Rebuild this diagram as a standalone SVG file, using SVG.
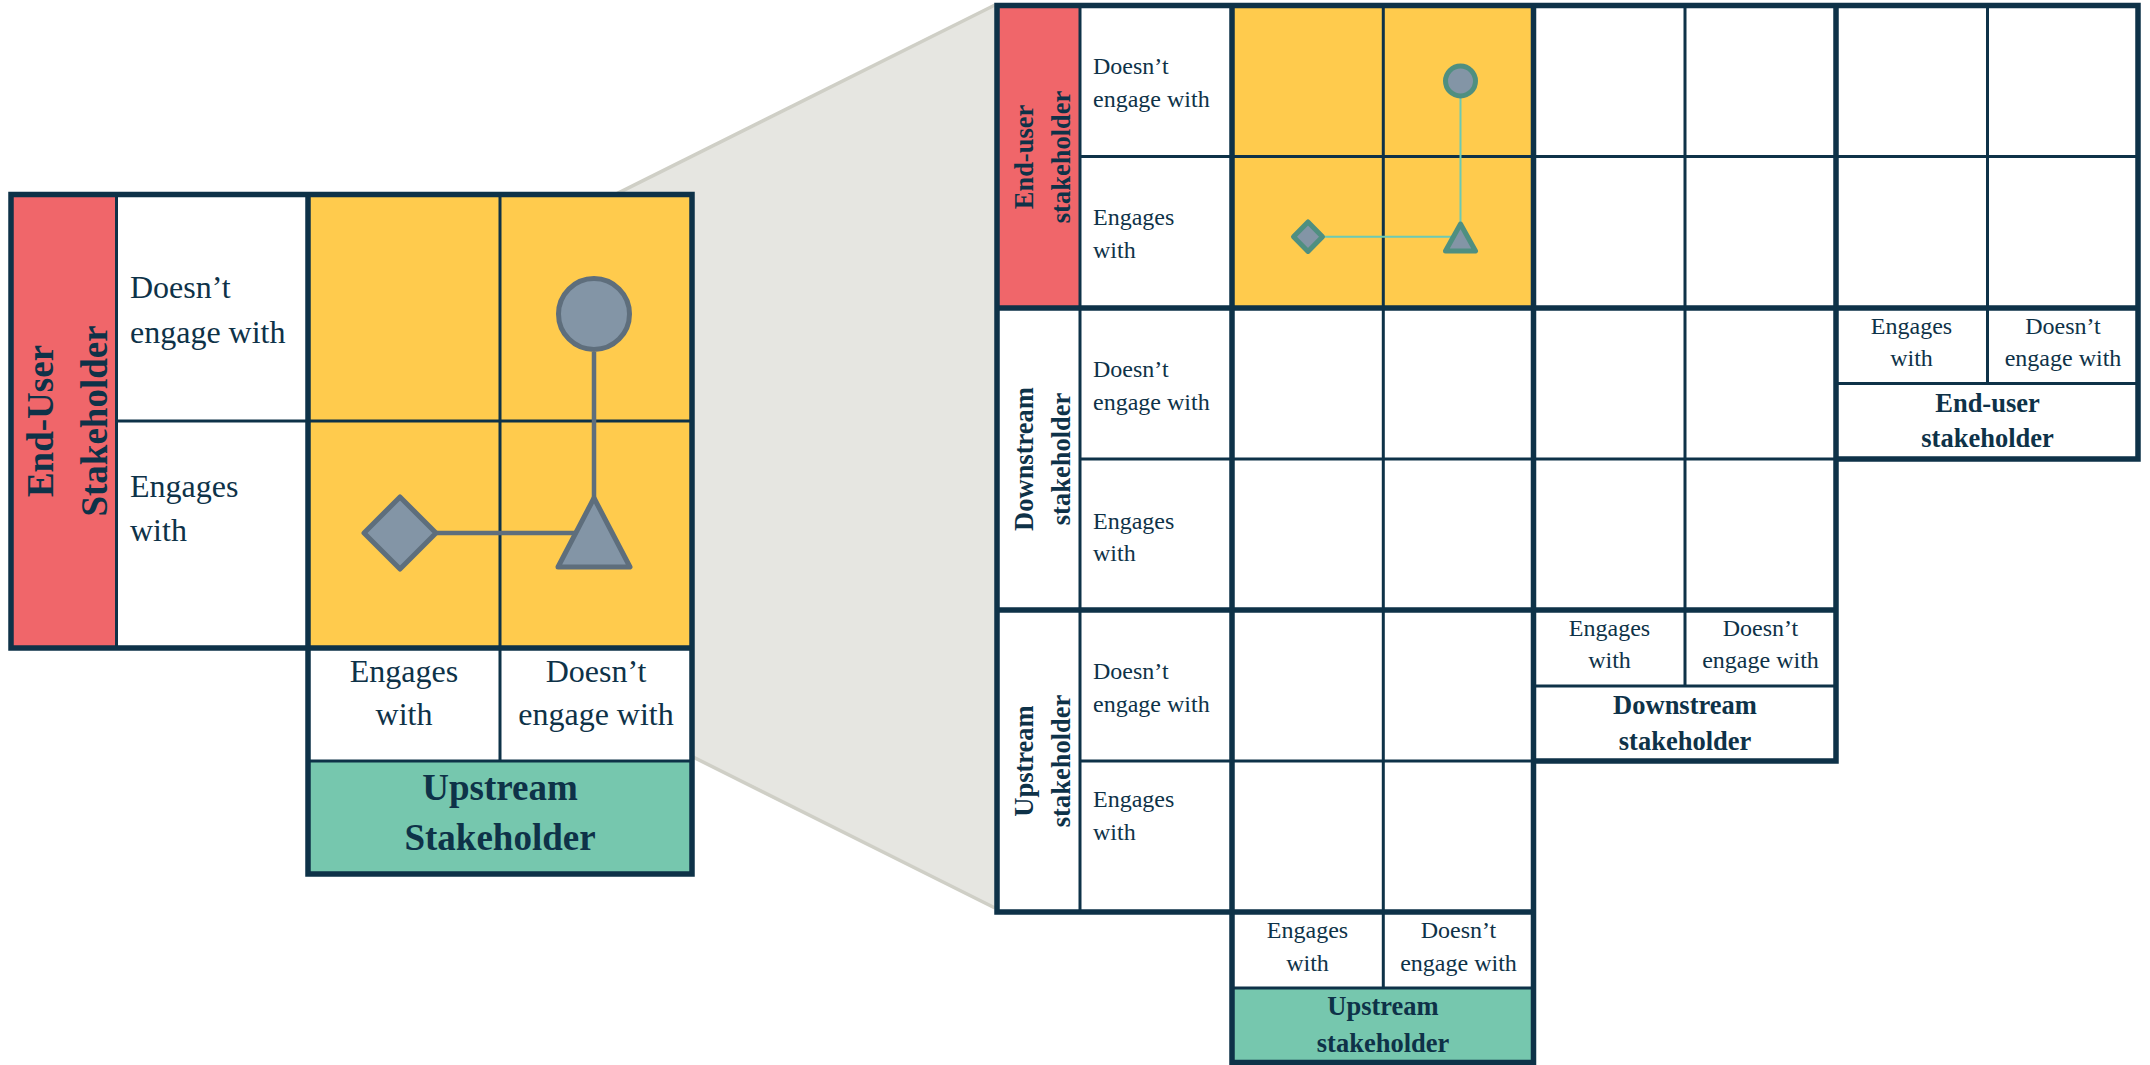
<svg xmlns="http://www.w3.org/2000/svg" width="2150" height="1065" viewBox="0 0 2150 1065" font-family="'Liberation Serif', 'Times New Roman', Tinos, 'DejaVu Serif', serif">
<style>
.thick{stroke:#0e3248;stroke-width:5.5;fill:none;stroke-linecap:square;stroke-linejoin:miter}
.thin{stroke:#0e3248;stroke-width:3;fill:none}
text{font-family:'Liberation Serif', 'Times New Roman', Tinos, 'DejaVu Serif', serif;fill:#0e3248}
.b32{font-size:32px}
.s24{font-size:24px}
.bd37{font-size:37px;font-weight:bold}
.bd26{font-size:26.5px;font-weight:bold}
.mid{text-anchor:middle}
.shapeL{fill:#8395a6;stroke:#5e6e7c;stroke-width:5;stroke-linejoin:round}
.shapeR{fill:#8395a6;stroke:#4f8f80;stroke-width:5;stroke-linejoin:round}
.red{fill:#f0666a}
.yel{fill:#ffcb4d}
.grn{fill:#76c7ae}
.wht{fill:#ffffff}
</style>
<rect width="2150" height="1065" fill="#ffffff"/>
<g id="zoom-cone">
<polygon points="91,456 995,5 995,908" fill="#e6e6e1"/>
<line x1="91" y1="456" x2="995" y2="5" stroke="#cfcfc6" stroke-width="3.5"/>
<line x1="91" y1="456" x2="995" y2="908" stroke="#cfcfc6" stroke-width="3.5"/>
</g>
<g id="left-matrix">
<rect class="red" x="11" y="194.5" width="105.5" height="453.5"/>
<rect class="wht" x="116.5" y="194.5" width="191.5" height="453.5"/>
<rect class="yel" x="308" y="194.5" width="384" height="453.5"/>
<rect class="wht" x="308" y="648" width="384" height="113"/>
<rect class="grn" x="308" y="761" width="384" height="113"/>
<path class="thin" d="M116.5,194.5V648 M116.5,421H692 M500,194.5V761 M308,761H692"/>
<path class="thick" d="M11,194.5H692V648H11Z M308,194.5V874 M308,648V874H692V648"/>
<g id="left-row-labels">
<text class="b32" x="130" y="298">Doesn’t</text>
<text class="b32" x="130" y="343">engage with</text>
<text class="b32" x="130" y="497">Engages</text>
<text class="b32" x="130" y="541">with</text>
</g>
<g id="left-col-labels">
<text class="b32 mid" x="404" y="682">Engages</text>
<text class="b32 mid" x="404" y="725">with</text>
<text class="b32 mid" x="596" y="682">Doesn’t</text>
<text class="b32 mid" x="596" y="725">engage with</text>
</g>
<g id="left-enduser-title">
<text class="bd37 mid" transform="translate(53,421) rotate(-90)">End-User</text>
<text class="bd37 mid" transform="translate(107,421) rotate(-90)">Stakeholder</text>
</g>
<g id="left-upstream-title">
<text class="bd37 mid" x="500" y="800">Upstream</text>
<text class="bd37 mid" x="500" y="850">Stakeholder</text>
</g>
</g>
<g id="right-matrix">
<rect class="red" x="997" y="5.5" width="83" height="302.5"/>
<rect class="yel" x="1232" y="5.5" width="301.5" height="302.5"/>
<rect class="grn" x="1232" y="988" width="301.5" height="74.5"/>
<path class="thin" d="M1080,5.5V912 M1080,156.5H2138 M1080,459H1836 M1080,761H1533.5 M1383.3,5.5V988 M1685,5.5V686 M1987.5,5.5V383.5 M1836,383.5H2138 M1533.5,686H1836 M1232,988H1533.5"/>
<path class="thick" d="M997,5.5H2138V459H1836V761H1533.5V1062.5H1232V912H997Z M997,308H2138 M997,610H1836 M997,912H1533.5 M1232,5.5V1062.5 M1533.5,5.5V761 M1836,5.5V459"/>
<g id="right-enduser-rows">
<text class="s24" x="1093" y="74">Doesn’t</text>
<text class="s24" x="1093" y="107">engage with</text>
<text class="s24" x="1093" y="225">Engages</text>
<text class="s24" x="1093" y="258">with</text>
<text class="bd26 mid" transform="translate(1033,157) rotate(-90)">End-user</text>
<text class="bd26 mid" transform="translate(1070,157) rotate(-90)">stakeholder</text>
</g>
<g id="right-downstream-rows">
<text class="s24" x="1093" y="377">Doesn’t</text>
<text class="s24" x="1093" y="409.5">engage with</text>
<text class="s24" x="1093" y="528.5">Engages</text>
<text class="s24" x="1093" y="561">with</text>
<text class="bd26 mid" transform="translate(1033,459) rotate(-90)">Downstream</text>
<text class="bd26 mid" transform="translate(1070,459) rotate(-90)">stakeholder</text>
</g>
<g id="right-upstream-rows">
<text class="s24" x="1093" y="678.5">Doesn’t</text>
<text class="s24" x="1093" y="711.5">engage with</text>
<text class="s24" x="1093" y="807">Engages</text>
<text class="s24" x="1093" y="839.5">with</text>
<text class="bd26 mid" transform="translate(1033,761) rotate(-90)">Upstream</text>
<text class="bd26 mid" transform="translate(1070,761) rotate(-90)">stakeholder</text>
</g>
<g id="right-enduser-cols">
<text class="s24 mid" x="1911.5" y="333.5">Engages</text>
<text class="s24 mid" x="1911.5" y="366">with</text>
<text class="s24 mid" x="2063" y="333.5">Doesn’t</text>
<text class="s24 mid" x="2063" y="366">engage with</text>
<text class="bd26 mid" x="1987.5" y="411.5">End-user</text>
<text class="bd26 mid" x="1987.5" y="447">stakeholder</text>
</g>
<g id="right-downstream-cols">
<text class="s24 mid" x="1609.5" y="635.5">Engages</text>
<text class="s24 mid" x="1609.5" y="668">with</text>
<text class="s24 mid" x="1760.5" y="635.5">Doesn’t</text>
<text class="s24 mid" x="1760.5" y="668">engage with</text>
<text class="bd26 mid" x="1685" y="713.5">Downstream</text>
<text class="bd26 mid" x="1685" y="750">stakeholder</text>
</g>
<g id="right-upstream-cols">
<text class="s24 mid" x="1307.5" y="938">Engages</text>
<text class="s24 mid" x="1307.5" y="971">with</text>
<text class="s24 mid" x="1458.5" y="938">Doesn’t</text>
<text class="s24 mid" x="1458.5" y="971">engage with</text>
<text class="bd26 mid" x="1383" y="1015">Upstream</text>
<text class="bd26 mid" x="1383" y="1052">stakeholder</text>
</g>
</g>
<g id="connectors">
<line x1="594" y1="352" x2="594" y2="500" stroke="#5e6e7c" stroke-width="4.5"/>
<line x1="437" y1="533" x2="577" y2="533" stroke="#5e6e7c" stroke-width="4.5"/>
<line x1="1460.5" y1="96" x2="1460.5" y2="226" stroke="#6ccab5" stroke-width="2"/>
<line x1="1323" y1="236.7" x2="1452" y2="236.7" stroke="#6ccab5" stroke-width="2"/>
</g>
<g id="left-circle"><circle class="shapeL" cx="594" cy="314" r="35.5"/></g>
<g id="left-triangle"><path class="shapeL" d="M594,498 L630,567 L558,567 Z"/></g>
<g id="left-diamond"><path class="shapeL" d="M400,497 L436,533 L400,569 L364,533 Z"/></g>
<g id="right-circle"><circle class="shapeR" cx="1460.5" cy="81" r="15"/></g>
<g id="right-triangle"><path class="shapeR" d="M1460.5,224 L1475.5,251 L1445.5,251 Z"/></g>
<g id="right-diamond"><path class="shapeR" d="M1308,222 L1322.5,236.7 L1308,251.4 L1293.5,236.7 Z"/></g>
</svg>
